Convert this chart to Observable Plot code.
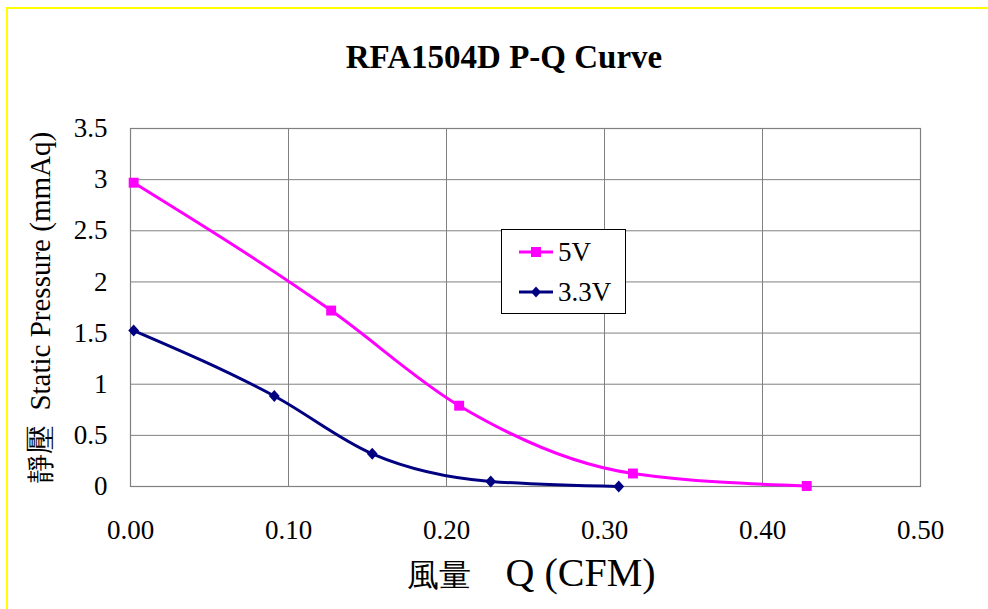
<!DOCTYPE html>
<html>
<head>
<meta charset="utf-8">
<script src="https://cdn.jsdelivr.net/npm/d3@7"></script>
<script src="https://cdn.jsdelivr.net/npm/@observablehq/plot@0.6"></script>
<style>
  html, body { margin: 0; padding: 0; background: #fff; overflow: hidden; }
  body { width: 988px; height: 609px; position: relative; font-family: "Liberation Serif", "Times New Roman", Tinos, "DejaVu Serif", serif; }
  #frame { position: absolute; left: 6px; top: 7px; width: 1000px; height: 700px; border-left: 2px solid #ffff00; border-top: 2px solid #ffff00; pointer-events: none; }
  #title { position: absolute; left: 0; top: 0; width: 1008px; height: 100px; text-align: center; font-weight: bold; font-size: 33px; line-height: 114px; color: #000; }
  #chart { position: absolute; left: 0; top: 100px; }
  #legend { position: absolute; left: 501px; top: 229px; width: 123px; height: 83px; border: 1px solid #000; background: #fff; font-size: 27px; color: #000; }
  .sw { position: absolute; left: 17px; }
  .lab { position: absolute; left: 56px; line-height: 30px; height: 30px; }
</style>
</head>
<body>
<div id="title">RFA1504D P-Q Curve</div>
<div id="chart"></div>
<div id="legend">
  <svg class="sw" style="top: 15px;" width="34" height="14"><line x1="0" y1="7" x2="34" y2="7" stroke="#ff00ff" stroke-width="3"/><rect x="12" y="2" width="10" height="10" fill="#ff00ff"/></svg>
  <div class="lab" style="top: 7px;">5V</div>
  <svg class="sw" style="top: 55px;" width="34" height="14"><line x1="0" y1="7" x2="34" y2="7" stroke="#000080" stroke-width="3"/><path d="M17,1.5 L22,7 L17,12.5 L12,7 Z" fill="#000080"/></svg>
  <div class="lab" style="top: 47px;">3.3V</div>
</div>
<div id="frame"></div>
<script>
// Data
const q5V   = [0.002, 0.127, 0.208, 0.318, 0.428];
const p5V   = [2.97, 1.72, 0.79, 0.127, 0.005];
const q33V  = [0.002, 0.091, 0.153, 0.228, 0.309];
const p33V  = [1.525, 0.885, 0.32, 0.05, 0.0];
const xTicks = [0, 0.1, 0.2, 0.3, 0.4, 0.5];
const yTicks = [0, 0.5, 1, 1.5, 2, 2.5, 3, 3.5];
const seriesNames = ["5V", "3.3V"];
const seriesColors = ["#ff00ff", "#000080"];
const xLabelCJK = "風量";
const xLabelLatin = "Q (CFM)";
const yLabel = "靜壓  Static Pressure (mmAq)";

const d5 = q5V.map((q, i) => ({q, p: p5V[i], s: seriesNames[0]}));
const d33 = q33V.map((q, i) => ({q, p: p33V[i], s: seriesNames[1]}));

const font = "'Liberation Serif', 'Times New Roman', Tinos, 'DejaVu Serif', serif";

// Excel-like diamond
const excelDiamond = {
  draw(context, size) {
    const r = Math.sqrt(size / Math.PI);
    const w = r * 0.9, h = r * 1.0;
    context.moveTo(0, -h);
    context.lineTo(w, 0);
    context.lineTo(0, h);
    context.lineTo(-w, 0);
    context.closePath();
  }
};

const chart = Plot.plot({
  width: 988,
  height: 509,
  marginLeft: 130,
  marginRight: 68,
  marginTop: 28,
  marginBottom: 123,
  style: { fontFamily: font, color: "#000", background: "transparent", overflow: "visible" },
  x: { domain: [0, 0.5] },
  y: { domain: [0, 3.5] },
  marks: [
    Plot.frame({ fill: "#fff" }),
    Plot.gridX(xTicks, { stroke: "#808080", strokeOpacity: 1, strokeWidth: 1 }),
    Plot.gridY(yTicks, { stroke: "#808080", strokeOpacity: 1, strokeWidth: 1 }),
    Plot.frame({ stroke: "#808080", strokeWidth: 1.2 }),
    Plot.axisX(xTicks, { tickSize: 0, tickPadding: 33, tickFormat: d3.format(".2f"), fontSize: 27, label: null }),
    Plot.axisY(yTicks, { tickSize: 0, tickPadding: 23, tickFormat: d => String(d), fontSize: 27, label: null }),
    Plot.line(d5, { x: "q", y: "p", stroke: seriesColors[0], strokeWidth: 3, curve: "monotone-x" }),
    Plot.line(d33, { x: "q", y: "p", stroke: seriesColors[1], strokeWidth: 3, curve: "monotone-x" }),
    Plot.dot(d5, { x: "q", y: "p", symbol: "square", fill: seriesColors[0], r: 5.6, stroke: null }),
    Plot.dot(d33, { x: "q", y: "p", symbol: excelDiamond, fill: seriesColors[1], r: 6, stroke: null }),
    Plot.text([xLabelCJK], { frameAnchor: "bottom", textAnchor: "end", dx: -55, dy: 89, fontSize: 32, text: d => d, fill: "#000" }),
    Plot.text([xLabelLatin], { frameAnchor: "bottom", textAnchor: "start", dx: -20, dy: 89, fontSize: 40, text: d => d, fill: "#000" }),
    Plot.text([yLabel], { frameAnchor: "left", textAnchor: "middle", dx: -90, rotate: -90, fontSize: 29, text: d => d, fill: "#000" })
  ]
});
// nudge x-axis label downward to match the reference baseline
chart.querySelectorAll("text").forEach(t => {
  if (t.textContent === xLabelCJK || t.textContent === xLabelLatin) t.setAttribute("transform", (t.getAttribute("transform") || "") + " translate(0,10)");
});
document.getElementById("chart").appendChild(chart);
</script>
</body>
</html>
